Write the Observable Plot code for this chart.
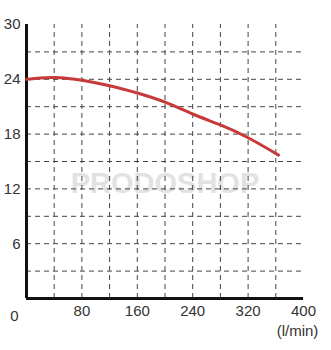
<!DOCTYPE html>
<html>
<head>
<meta charset="utf-8">
<script src="https://cdn.jsdelivr.net/npm/d3@7"></script>
<script src="https://cdn.jsdelivr.net/npm/@observablehq/plot@0.6"></script>
<style>
  html, body { margin: 0; padding: 0; background: #fff; }
  #chart svg { display: block; }
</style>
</head>
<body>
<div id="chart"></div>
<script>
// Flow (l/min) and head (m)
const flow = [0, 20, 40, 60, 80, 120, 160, 200, 240, 280, 320, 364];
const head = [24.0, 24.15, 24.2, 24.1, 23.9, 23.3, 22.5, 21.5, 20.2, 19.0, 17.6, 15.7];

const xTickLabels = [80, 160, 240, 320, 400];
const yTickLabels = [6, 12, 18, 24, 30];
const xGrid = [40, 80, 120, 160, 200, 240, 280, 320, 360];
const yGrid = [3, 6, 9, 12, 15, 18, 21, 24, 27];
const unitLabel = "(l/min)";
const watermark = "PRODOSHOP";

const curve = flow.map((q, i) => ({q, h: head[i]}));
const font = "'Liberation Sans', Arial, sans-serif";

const chart = Plot.plot({
  width: 331,
  height: 350,
  marginLeft: 26,
  marginRight: 28,
  marginTop: 24,
  marginBottom: 52,
  style: {fontFamily: font, background: "#fff"},
  x: {domain: [0, 400], axis: null},
  y: {domain: [0, 30], axis: null},
  marks: [
    Plot.text([watermark], {x: 200, y: 12.6, text: d => d, fontSize: 29, fontWeight: "bold", fill: "#e2e2e2", fontFamily: font}),
    Plot.ruleX(xGrid, {y1: 0, y2: 30, stroke: "#444", strokeWidth: 1, strokeDasharray: "5,4"}),
    Plot.ruleY(yGrid, {x1: 0, x2: 400, stroke: "#444", strokeWidth: 1, strokeDasharray: "5,4"}),
    Plot.ruleX([0], {y1: 0, y2: 30, stroke: "#111", strokeWidth: 3}),
    Plot.ruleY([0], {x1: 0, x2: 400, stroke: "#111", strokeWidth: 3}),
    Plot.line(curve, {x: "q", y: "h", stroke: "#c63a3a", strokeWidth: 3, curve: "natural"}),
    Plot.text(yTickLabels, {x: 0, y: d => d, text: d => String(d), textAnchor: "end", dx: -6, fontSize: 15, fill: "#333"}),
    Plot.text(xTickLabels, {x: d => d, y: 0, text: d => String(d), dy: 13, fontSize: 15, fill: "#333"}),
    Plot.text([0], {x: 0, y: 0, text: d => String(d), dx: -12, dy: 18, fontSize: 15, fill: "#333"}),
    Plot.text([unitLabel], {x: 400, y: 0, text: d => d, dx: -6, dy: 33, fontSize: 15, fill: "#333"})
  ]
});
document.getElementById("chart").appendChild(chart);
</script>
</body>
</html>
